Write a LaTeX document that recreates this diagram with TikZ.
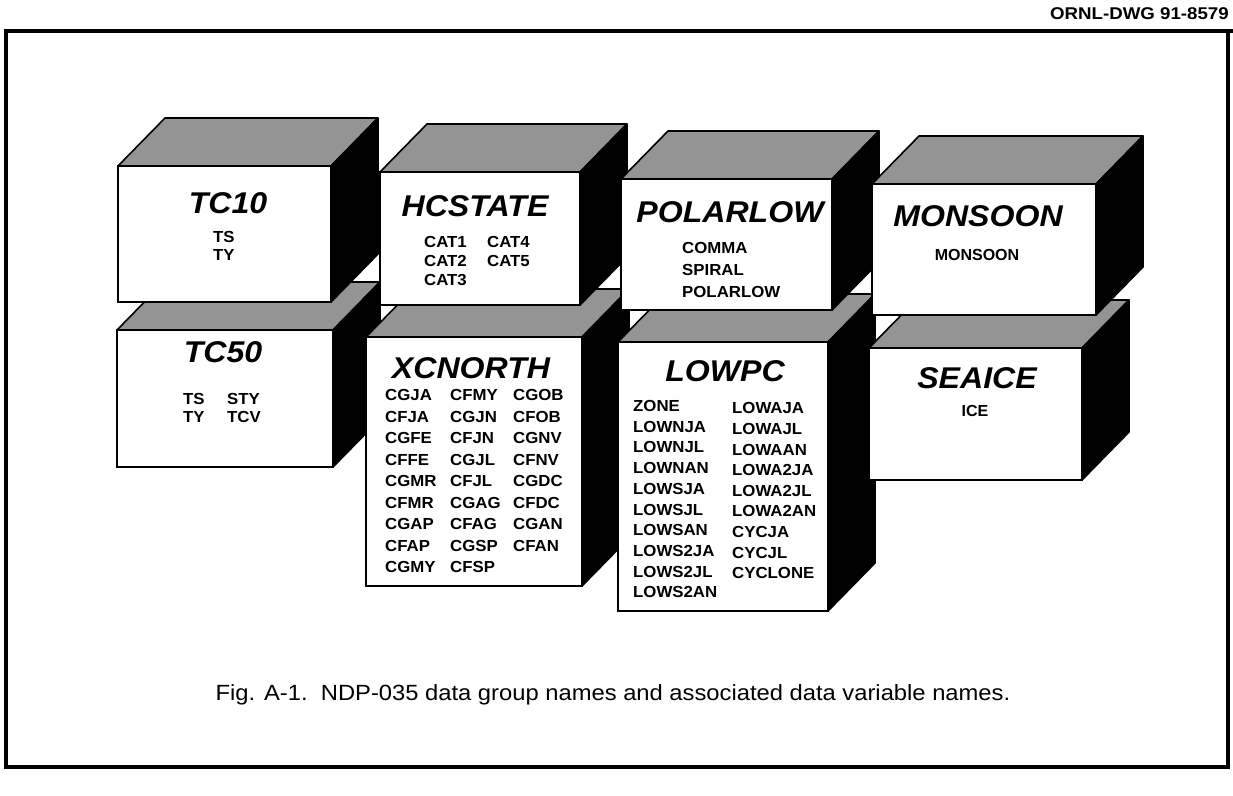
\documentclass[tikz,border=0pt]{standalone}
\usepackage{fontspec}
\setmainfont{Liberation Sans}
\begin{document}
\begin{tikzpicture}[x=1pt,y=-1pt,
  front/.style={draw, line width=1.6pt, fill=white, inner sep=0pt, outer sep=0pt, anchor=north west},
  topface/.style={draw, line width=1.6pt, fill=black!42, line join=round},
  sideface/.style={draw, line width=1.6pt, fill=black, line join=round},
  title/.style={font=\fontsize{30}{30}\selectfont\bfseries\itshape, anchor=base, inner sep=0pt, xscale=1.07},
  var/.style={font=\fontsize{16}{16}\selectfont\bfseries, anchor=base west, inner sep=0pt, xscale=1.05},
  varc/.style={font=\fontsize{16}{16}\selectfont\bfseries, anchor=base, inner sep=0pt},
  frame/.style={line width=3.5pt}]
\useasboundingbox (0,0) rectangle (1233,795);
\newcommand{\cube}[5]{%
  \node[front, minimum width={#4-#2}, minimum height={#5-#3}] (#1) at (#2,#3) {};
  \filldraw[topface] (#1.north west) -- ++(47,-48) -- ++({#4-#2},0) -- (#1.north east) -- cycle;
  \filldraw[sideface] (#1.north east) -- ++(47,-48) -- ++(0,{#5-#3}) -- (#1.south east) -- cycle;
  \draw[line width=1.6pt] (#1.north west) rectangle (#1.south east);
}
% frame
\draw[frame] (6,31) rectangle (1228,767);
\draw[frame] (1228,31) -- (1233,31);
\node[font=\fontsize{17}{17}\selectfont\bfseries, anchor=base east, inner sep=0pt, xscale=1.1] (dwg) at (1229,19) {ORNL-DWG 91-8579};
% lower row
\cube{tcf}{117}{330}{333}{467}
\cube{xcn}{366}{337}{582}{586}
\cube{lowpc}{618}{342}{828}{611}
\cube{seaice}{869}{348}{1082}{480}
% upper row
\cube{tct}{118}{166}{331}{302}
\cube{hcs}{380}{172}{580}{305}
\cube{polar}{621}{179}{832}{310}
\cube{mons}{872}{184}{1096}{315}
% titles
\node[title] (t-tct) at (228,213) {TC10};
\node[title] (t-hcs) at (475,216) {HCSTATE};
\node[title] (t-polar) at (730,222) {POLARLOW};
\node[title] (t-mons) at (978,226) {MONSOON};
\node[title] (t-tcf) at (223,362) {TC50};
\node[title] (t-xcn) at (471,378) {XCNORTH};
\node[title] (t-lowpc) at (725,381) {LOWPC};
\node[title] (t-seaice) at (977,388) {SEAICE};
% variables
\foreach \v [count=\i from 0] in {TS,TY} \node[var] (tct-\i) at (213,{242.5+18*\i}) {\v};
\foreach \v [count=\i from 0] in {CAT1,CAT2,CAT3} \node[var] (hcs-a\i) at (424,{247+19.4*\i}) {\v};
\foreach \v [count=\i from 0] in {CAT4,CAT5} \node[var] (hcs-b\i) at (487,{247+19.4*\i}) {\v};
\foreach \v [count=\i from 0] in {COMMA,SPIRAL,POLARLOW} \node[var] (polar-\i) at (682,{253+22*\i}) {\v};
\node[varc] (mons-0) at (977,260) {MONSOON};
\foreach \v [count=\i from 0] in {TS,TY} \node[var] (tcf-a\i) at (183,{404+18.5*\i}) {\v};
\foreach \v [count=\i from 0] in {STY,TCV} \node[var] (tcf-b\i) at (227,{404+18.5*\i}) {\v};
\foreach \v [count=\i from 0] in {CGJA,CFJA,CGFE,CFFE,CGMR,CFMR,CGAP,CFAP,CGMY} \node[var] (xcn-a\i) at (385,{400.5+21.56*\i}) {\v};
\foreach \v [count=\i from 0] in {CFMY,CGJN,CFJN,CGJL,CFJL,CGAG,CFAG,CGSP,CFSP} \node[var] (xcn-b\i) at (450,{400.5+21.56*\i}) {\v};
\foreach \v [count=\i from 0] in {CGOB,CFOB,CGNV,CFNV,CGDC,CFDC,CGAN,CFAN} \node[var] (xcn-c\i) at (513,{400.5+21.56*\i}) {\v};
\foreach \v [count=\i from 0] in {ZONE,LOWNJA,LOWNJL,LOWNAN,LOWSJA,LOWSJL,LOWSAN,LOWS2JA,LOWS2JL,LOWS2AN} \node[var] (lowpc-a\i) at (633,{411.3+20.74*\i}) {\v};
\foreach \v [count=\i from 0] in {LOWAJA,LOWAJL,LOWAAN,LOWA2JA,LOWA2JL,LOWA2AN,CYCJA,CYCJL,CYCLONE} \node[var] (lowpc-b\i) at (732,{413.8+20.6*\i}) {\v};
\node[varc] (seaice-0) at (975,416) {ICE};
% caption
\node[font=\fontsize{22}{22}\selectfont, anchor=base, inner sep=0pt, xscale=1.08] (cap) at (613,700) {Fig. A-1.\ \ NDP-035 data group names and associated data variable names.};
\end{tikzpicture}
\end{document}
